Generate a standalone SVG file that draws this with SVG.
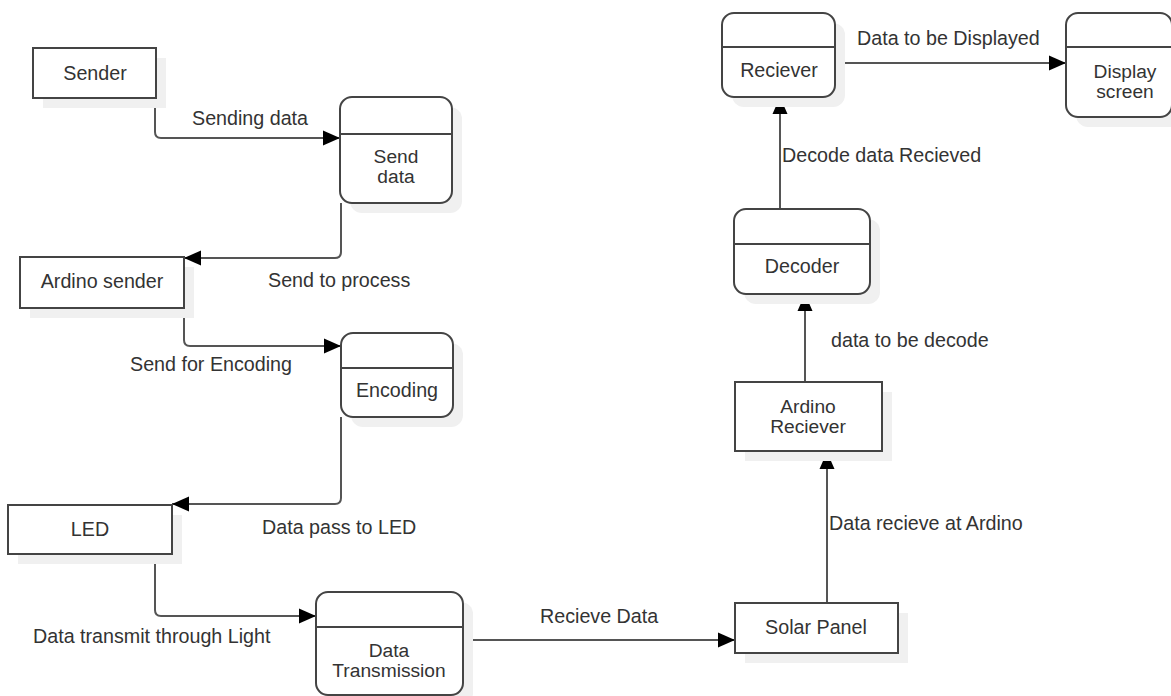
<svg xmlns="http://www.w3.org/2000/svg" width="1171" height="696" viewBox="0 0 1171 696">
<style>
.box{fill:#fff;stroke:#444;stroke-width:2}
.sh{fill:#f0f0f0;stroke:none}
.hl{stroke:#444;stroke-width:2}
.t{font-family:"Liberation Sans",Arial,sans-serif;font-size:19.7px;fill:#333}
.t.m{font-size:19.2px}
.c{text-anchor:middle}
.ln{fill:none;stroke:#555;stroke-width:2}
</style>
<defs>
<marker id="ah" markerUnits="userSpaceOnUse" markerWidth="18" markerHeight="16" refX="17" refY="7.5" orient="auto" overflow="visible">
<path d="M0,0 L17,7.5 L0,15 z" fill="#000"/>
</marker>
</defs>
<rect width="1171" height="696" fill="#fff"/>

<g id="connectors">
<path class="ln" d="M155 98 V132 Q155 138 161 138 H340" marker-end="url(#ah)"/>
<path class="ln" d="M341 203 V252 Q341 258 335 258 H184" marker-end="url(#ah)"/>
<path class="ln" d="M184 308 V340 Q184 346 190 346 H341" marker-end="url(#ah)"/>
<path class="ln" d="M341 417 V498 Q341 504 335 504 H172" marker-end="url(#ah)"/>
<path class="ln" d="M155 554 V610 Q155 616 161 616 H316" marker-end="url(#ah)"/>
<path class="ln" d="M463 640 H735" marker-end="url(#ah)"/>
<path class="ln" d="M827 603 V452" marker-end="url(#ah)"/>
<path class="ln" d="M805 382 V294" marker-end="url(#ah)"/>
<path class="ln" d="M780 209 V97" marker-end="url(#ah)"/>
<path class="ln" d="M835 63 H1066" marker-end="url(#ah)"/>
<text class="t" x="192" y="125">Sending data</text>
<text class="t" x="268" y="287">Send to process</text>
<text class="t" x="130" y="371">Send for Encoding</text>
<text class="t" x="262" y="534">Data pass to LED</text>
<text class="t" x="33" y="643">Data transmit through Light</text>
<text class="t" x="540" y="623">Recieve Data</text>
<text class="t" x="829" y="530">Data recieve at Ardino</text>
<text class="t" x="831" y="347">data to be decode</text>
<text class="t" x="782" y="162">Decode data Recieved</text>
<text class="t" x="857" y="45">Data to be Displayed</text>
</g>

<g id="sender">
<rect class="sh" x="43" y="58" width="123" height="50"/>
<rect class="box" x="33" y="48" width="123" height="50"/>
<text class="t c" x="95" y="80">Sender</text>
</g>

<g id="send-data">
<rect class="sh" x="350" y="107" width="112" height="106" rx="12"/>
<rect class="box" x="340" y="97" width="112" height="106" rx="12"/>
<line class="hl" x1="340" y1="134" x2="452" y2="134"/>
<text class="t m c" x="396" y="163">Send</text>
<text class="t m c" x="396" y="183">data</text>
</g>

<g id="ardino-sender">
<rect class="sh" x="30" y="267" width="164" height="51"/>
<rect class="box" x="20" y="257" width="164" height="51"/>
<text class="t c" x="102" y="288">Ardino sender</text>
</g>

<g id="encoding">
<rect class="sh" x="351" y="343" width="112" height="84" rx="12"/>
<rect class="box" x="341" y="333" width="112" height="84" rx="12"/>
<line class="hl" x1="341" y1="368" x2="453" y2="368"/>
<text class="t c" x="397" y="397">Encoding</text>
</g>

<g id="led">
<rect class="sh" x="18" y="515" width="164" height="49"/>
<rect class="box" x="8" y="505" width="164" height="49"/>
<text class="t c" x="90" y="536">LED</text>
</g>

<g id="data-transmission">
<rect class="sh" x="326" y="602" width="147" height="103" rx="12"/>
<rect class="box" x="316" y="592" width="147" height="103" rx="12"/>
<line class="hl" x1="316" y1="627" x2="463" y2="627"/>
<text class="t m c" x="389" y="657">Data</text>
<text class="t m c" x="389" y="677">Transmission</text>
</g>

<g id="solar-panel">
<rect class="sh" x="745" y="613" width="163" height="50"/>
<rect class="box" x="735" y="603" width="163" height="50"/>
<text class="t c" x="816" y="634">Solar Panel</text>
</g>

<g id="ardino-reciever">
<rect class="sh" x="745" y="392" width="147" height="69"/>
<rect class="box" x="735" y="382" width="147" height="69"/>
<text class="t m c" x="808" y="413">Ardino</text>
<text class="t m c" x="808" y="433">Reciever</text>
</g>

<g id="decoder">
<rect class="sh" x="744" y="219" width="136" height="85" rx="12"/>
<rect class="box" x="734" y="209" width="136" height="85" rx="12"/>
<line class="hl" x1="734" y1="244" x2="870" y2="244"/>
<text class="t c" x="802" y="273">Decoder</text>
</g>

<g id="reciever">
<rect class="sh" x="732" y="23" width="113" height="84" rx="12"/>
<rect class="box" x="722" y="13" width="113" height="84" rx="12"/>
<line class="hl" x1="722" y1="47" x2="835" y2="47"/>
<text class="t c" x="779" y="77">Reciever</text>
</g>

<g id="display-screen">
<rect class="sh" x="1076" y="23" width="106" height="104" rx="12"/>
<rect class="box" x="1066" y="13" width="106" height="104" rx="12"/>
<line class="hl" x1="1066" y1="47" x2="1172" y2="47"/>
<text class="t m c" x="1125" y="78">Display</text>
<text class="t m c" x="1125" y="98">screen</text>
</g>
</svg>
